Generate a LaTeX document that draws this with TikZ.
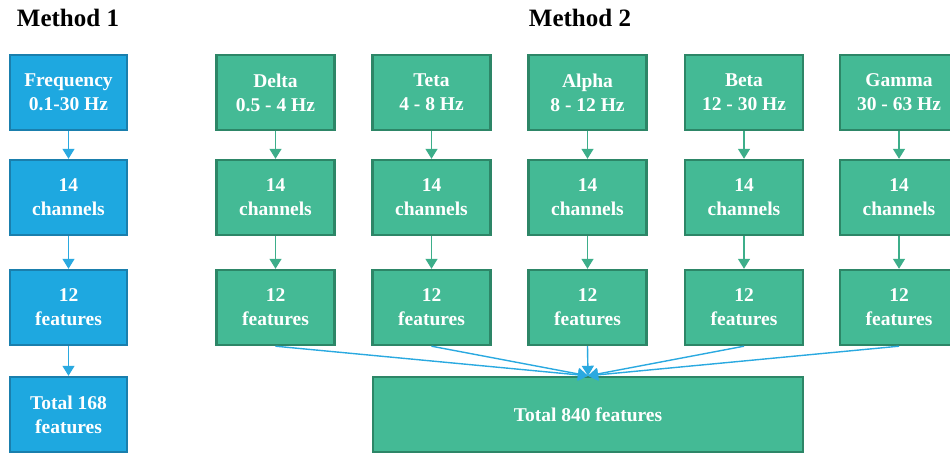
\documentclass[tikz,border=0pt]{standalone}
\usepackage{fontspec}
\setmainfont{Liberation Serif}
\usetikzlibrary{arrows.meta}
\definecolor{bluefill}{HTML}{1EA8E0}
\definecolor{blueedge}{HTML}{1A7FAD}
\definecolor{greenfill}{HTML}{44BA95}
\definecolor{greenedge}{HTML}{2D8667}
\definecolor{arrowblue}{HTML}{2AA9E0}
\definecolor{arrowgreen}{HTML}{3DAE8A}
\begin{document}
\begin{tikzpicture}[x=1pt,y=-1pt,
  bbox/.style={draw=blueedge,fill=bluefill,line width=2.4pt,minimum width=117pt,minimum height=75pt,
    text=white,font=\fontsize{19.5}{24}\selectfont\bfseries,align=center,inner sep=0pt},
  gbox/.style={bbox,draw=greenedge,fill=greenfill,minimum width=118pt},
  title/.style={font=\fontsize{25}{30}\selectfont\bfseries,text=black,inner sep=0pt},
  barrow/.style={draw=arrowblue,line width=1.4pt,-{Triangle[length=10pt,width=12pt]}},
  garrow/.style={draw=arrowgreen,line width=1.4pt,-{Triangle[length=10pt,width=12pt]}}
]
\useasboundingbox (0,0) rectangle (950,454);
\clip (0,0) rectangle (950,454);

\node[title] (m1) at (68,18) {Method 1};
\node[title] (m2) at (580,18) {Method 2};

% Method 1
\node[bbox] (fq) at (68.5,92.5) {Frequency\\0.1-30 Hz};
\node[bbox] (bc) at (68.5,197.5) {14\\channels};
\node[bbox] (bf) at (68.5,307.5) {12\\features};
\node[bbox] (bt) at (68.5,414.5) {Total 168\\features};
\draw[barrow] (fq.south) -- (bc.north);
\draw[barrow] (bc.south) -- (bf.north);
\draw[barrow] (bf.south) -- (bt.north);

% Method 2
\foreach \n/\x/\lab in {d/275.5/{Delta\\0.5 - 4 Hz},t/431.5/{Teta\\4 - 8 Hz},a/587.5/{Alpha\\8 - 12 Hz},b/744/{Beta\\12 - 30 Hz},g/899/{Gamma\\30 - 63 Hz}}{
  \node[gbox] (\n1) at (\x,92.5) {\lab};
  \node[gbox] (\n2) at (\x,197.5) {14\\channels};
  \node[gbox] (\n3) at (\x,307.5) {12\\features};
  \draw[garrow] (\n1.south) -- (\n2.north);
  \draw[garrow] (\n2.south) -- (\n3.north);
}

\node[gbox,minimum width=430pt] (tot) at (588,414.5) {Total 840 features};
\coordinate (conv) at (tot.north);
\foreach \n in {d,t,a,b,g}{
  \draw[barrow] (\n3.south) -- (conv);
}
\end{tikzpicture}
\end{document}
